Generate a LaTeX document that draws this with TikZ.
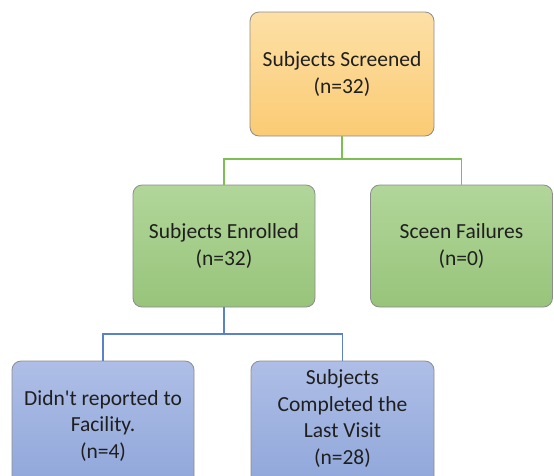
\documentclass[tikz,border=0pt]{standalone}
\usepackage{fontspec}
\setmainfont{Carlito}
\begin{document}
\begin{tikzpicture}[x=1pt,y=-1pt,
  box/.style={rectangle, rounded corners=9pt, draw=black!45, line width=0.8pt,
    align=center, inner sep=2pt, font=\fontsize{21.5}{26.5}\selectfont, text=black!88},
  orangebox/.style={box, top color=orange1, bottom color=orange2},
  greenbox/.style={box, top color=green1, bottom color=green2},
  bluebox/.style={box, top color=blue1, bottom color=blue2},
  gline/.style={draw=glinec, line width=1.8pt},
  bline/.style={draw=blinec, line width=1.8pt}]
\definecolor{orange1}{HTML}{FDE0A6}
\definecolor{orange2}{HTML}{FACB74}
\definecolor{green1}{HTML}{B2D69A}
\definecolor{green2}{HTML}{97C47A}
\definecolor{blue1}{HTML}{AEBEE6}
\definecolor{blue2}{HTML}{8FA6DA}
\definecolor{glinec}{HTML}{7DBF50}
\definecolor{blinec}{HTML}{5B82C8}
\useasboundingbox (0,0) rectangle (554,475);
\node[orangebox, minimum width=184pt, minimum height=124pt] (top) at (342,74) {Subjects Screened\\(n=32)};
\node[greenbox, minimum width=182pt, minimum height=122pt] (enr) at (224,246) {Subjects Enrolled\\(n=32)};
\node[greenbox, minimum width=182pt, minimum height=122pt] (fail) at (461.5,246) {Sceen Failures\\(n=0)};
\node[bluebox, minimum width=182pt, minimum height=130pt] (didnt) at (103,426) {Didn\textquotesingle t reported to\\Facility.\\(n=4)};
\node[bluebox, minimum width=183pt, minimum height=130pt] (comp) at (342.5,426) {Subjects\\Completed the\\Last Visit\\(n=28)\\[-8.5pt]\mbox{}};
\coordinate (gy) at (0,159);
\coordinate (by) at (0,334);
\draw[gline] (top.south) -- (top.south |- gy);
\draw[gline] (enr.north) -- (enr.north |- gy) -- (fail.north |- gy) -- (fail.north);
\draw[bline] (enr.south) -- (enr.south |- by);
\draw[bline] (didnt.north) -- (didnt.north |- by) -- (comp.north |- by) -- (comp.north);
\end{tikzpicture}
\end{document}
